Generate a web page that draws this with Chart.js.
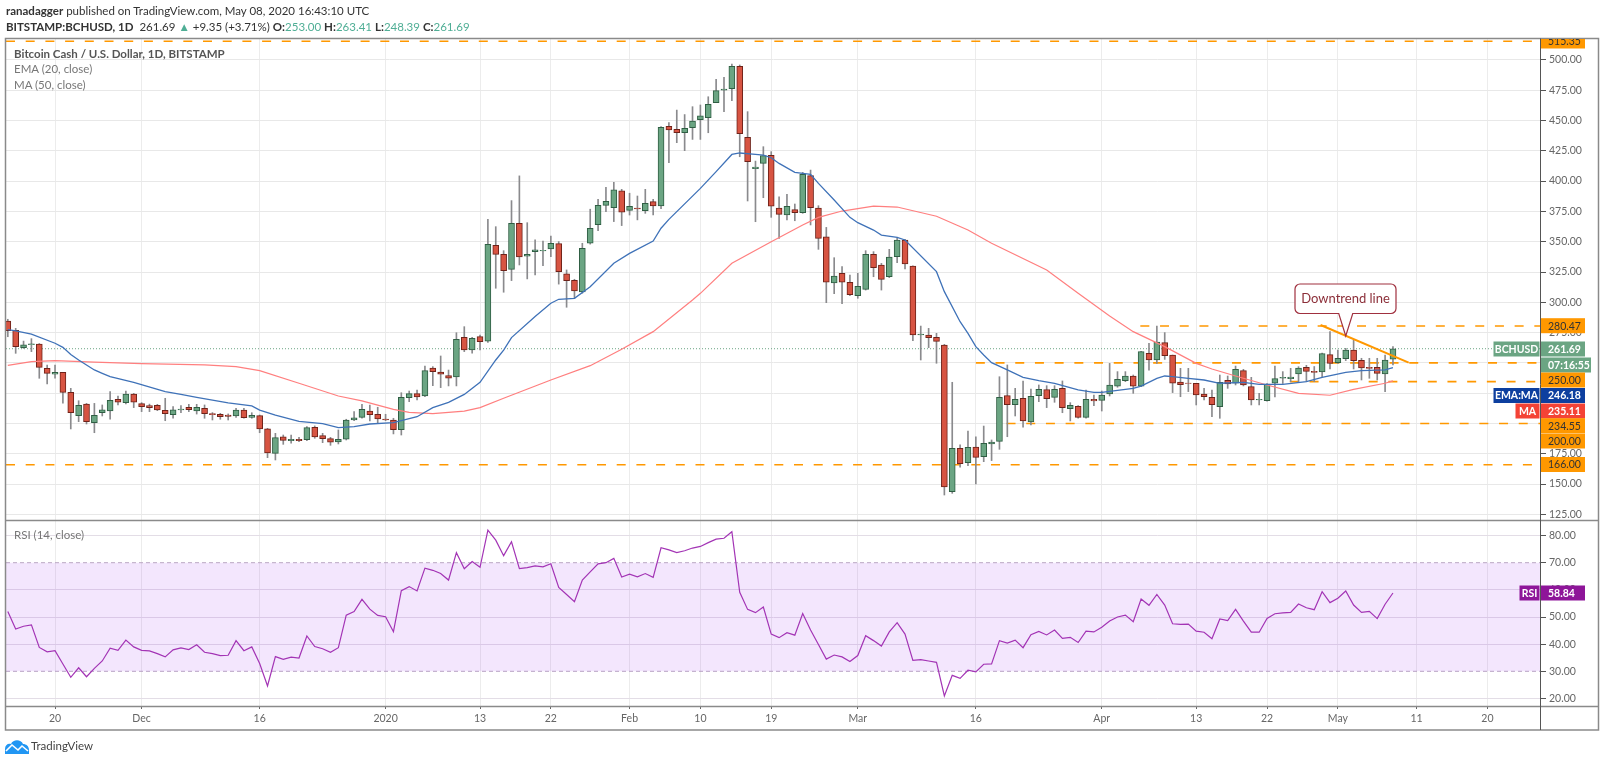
<!DOCTYPE html>
<html>
<head>
<meta charset="utf-8">
<title>BCHUSD</title>
<script src="https://cdn.jsdelivr.net/npm/chart.js@4"></script>
<style>
  html, body { margin: 0; padding: 0; background: #fff; }
  body { width: 1600px; height: 763px; overflow: hidden; position: relative; font-family: Lato, sans-serif; }
  #chart { position: absolute; left: 0; top: 0; }
  .txt { position: absolute; white-space: nowrap; }
  #head1 { left: 6px; top: 4px; font-size: 11.5px; color: #333; }
  #head2 { left: 6px; top: 20px; font-size: 11.5px; color: #333; }
  #head2 i { font-style: normal; color: #4fae95; }
  #title { left: 14px; top: 47px; font-size: 11.5px; color: #555; font-weight: 700; }
  #ema { left: 14px; top: 62px; font-size: 11.5px; color: #777; }
  #ma { left: 14px; top: 78px; font-size: 11.5px; color: #777; }
  #rsi { left: 14px; top: 528px; font-size: 11.5px; color: #777; }
  #tv { left: 31px; top: 739px; font-size: 11.5px; color: #444; }
  #logo { position: absolute; left: 5px; top: 739px; }
</style>
</head>
<body>
<canvas id="chart" width="1600" height="763"></canvas>
<div class="txt" id="head1"><b>ranadagger</b> published on TradingView.com, May 08, 2020 16:43:10 UTC</div>
<div class="txt" id="head2"><b>BITSTAMP:BCHUSD, 1D</b>&nbsp; 261.69 <i>▲</i> +9.35 (+3.71%) <b>O:</b><i>253.00</i> <b>H:</b><i>263.41</i> <b>L:</b><i>248.39</i> <b>C:</b><i>261.69</i></div>
<div class="txt" id="title">Bitcoin Cash / U.S. Dollar, 1D, BITSTAMP</div>
<div class="txt" id="ema">EMA (20, close)</div>
<div class="txt" id="ma">MA (50, close)</div>
<div class="txt" id="rsi">RSI (14, close)</div>
<svg id="logo" width="24" height="15" viewBox="0 0 24 15"><path d="M0 15V10C0 6 3 4 6 5C8 0 16 0 18 5C21 5 24 7 24 11V15Z" fill="#2196f3"/><path d="M1 12L7 6L13 11L17 7L23 12" fill="none" stroke="#fff" stroke-width="1.6"/></svg>
<div class="txt" id="tv">TradingView</div>

<script>
// candles, one per day starting Nov 14 2019 (day 0)
var opens = [
  284.5,276.9,262.6,265,265.6,245.5,240.6,242.2,225.7,206.5,216,200.7,209,210.3,220,217.2,224.3,
  216.4,214.7,215,210.9,207.3,211.2,213.3,210.3,212.5,208.1,207.6,207,206.2,211.1,205.1,206.5,195.5,175.4,188.9,185.8,186.9,186.7,196.8,190,187.5,184.8,187,202.9,205.1,210.3,207.6,
  203.7,202.9,194.9,221.3,224.6,222.7,245.8,242.5,239.5,238.4,271,260.7,271.7,267.9,347,339.6,327.2,365.2,338,341.8,342.4,344,348.4,323.4,318.2,308.5,348.7,364.1,380,378.1,391.9,
  375.9,377.8,375.6,383.1,379.5,445.2,442.7,439.9,444,450.7,452.3,464.7,475.1,476.2,494.7,436.1,410.2,414.6,421.2,377.8,372,376.4,373.9,404.5,377.8,354.1,315.9,323.9,316.5,
  305.4,310.7,339.6,330.8,321.2,337.7,351.4,329.9,273,273,271.1,264.8,143.8,179.5,167.7,180.6,172.6,183.1,185.3,223,215.5,220.8,201.3,223,227.9,221.6,229,212.2,214.2,205.1,219.9,
  219.1,224.4,230.9,235.4,239.2,230.9,257.9,252.4,266.7,256.5,234.2,233.4,233.1,224.3,221.6,213.9,235.6,233.2,243.6,230.4,219.4,218.9,233.2,237.5,237,240.9,246.3,243,242.5,256.8,
  250.2,253.5,260.6,252.1,246.3,246.3,240.9,253
];
var highs = [
  286,278.5,268,270,266,248.3,248.3,242.2,229,218.8,216.6,216.6,215.3,226.3,222.7,226.8,224.9,
  217.2,216,215.8,220.8,213.9,214.7,215.8,215.8,215.3,209,208.4,207.9,212.5,212.5,208.9,207,196,191.9,190.5,190.5,188.6,197.4,198,191.9,188.6,194.7,203.5,209.8,215.8,215.3,213.4,
  207.6,204.3,225.4,226.8,227.6,247.4,246.9,255.7,244.1,274.9,279.9,271,273,368.5,362.4,342.6,383.9,404.3,365.7,351.5,350.6,354.7,350.1,326.7,319,348.7,376.8,385,394.9,399,393.2,
  390,387.7,393.2,385,445,448.2,458.6,454.9,461.4,462.8,469.6,483.9,485.6,496.6,495.8,457.3,416.5,428.4,424.3,387.1,389,381.1,407.2,409.1,379.7,361.8,336.8,329.4,322.5,
  323.9,342.6,341.8,332.1,343.7,352.8,352,330,280.4,278.5,274.4,265.3,234,182.3,193.8,189.1,197.9,186.4,238.6,248.3,229,235.1,228.5,231.8,231.2,231.2,235.1,217.2,214.7,227.6,223.5,
  226.8,249.6,242.8,242.8,240,259.5,266.2,280.4,275,256.5,245.5,245.5,233.1,229,227.6,240,239.2,247.4,244.7,238.1,224.9,233,247.4,242.8,245.5,246.9,248,247,258,275.8,
  260.6,262,268.9,253.8,253.8,253.8,256.5,263.41
];
var lows = [
  271.6,257.9,262,259.3,237.3,232.6,237.3,216.7,195.5,201.5,199.6,192.4,206.2,203.5,215.3,216.1,213.1,
  209.8,209.8,210.6,202.3,204.3,209,209.8,207.8,204.3,202.9,203.5,202.9,205.1,204.3,204.3,192.4,171.8,169.9,182.8,183.7,185,185.8,187.8,184.2,182,183.1,186.4,202.3,204.3,202.1,200.1,
  202.3,191.4,190.5,218,219.4,222.1,231.2,229.6,231,231,259.3,258,260.7,267,311.6,308.3,317.9,330.8,319.3,322.6,330.3,337.7,315,295.9,303.3,307.5,348,359.2,374.8,366.6,363.3,
  372,368,373.4,372.1,377.3,415.2,431.7,425.1,434.4,434.4,439.9,464.7,457.3,466.3,420.1,383.6,366.5,386.3,370.1,352.8,367.9,367.3,373.4,363.8,343.7,299.7,307.1,298.9,305.4,
  303.3,310.1,321.1,310.1,320.3,332.7,327.5,268.4,252.4,262.6,249.7,141,142.4,163.9,165.2,150.1,168.5,169.4,178.7,189.1,206.2,196.9,198.8,218,213.1,217.5,208.9,202.1,204.3,204.3,214.7,
  210.3,222.7,229.9,234.5,224.9,230.4,244.1,249.6,252.9,225.5,222.1,226.3,215.3,219.4,205.7,204.3,229,231.8,231,215.3,215.3,218.5,222,233,234.5,234.5,234.5,234.5,238.6,245,
  249.6,251.9,245,235.9,237.3,235.9,226.3,248.39
];
var closes = [
  276.6,263.4,265,265.7,246.3,241.4,242.2,225.7,209,215,201.5,206.7,211.2,219.1,217.7,224.3,217.7,
  213.9,213.1,211.2,208.1,211.2,212,211.4,213.3,208.1,207.3,205.7,205.8,211.1,204.8,206.7,195.5,175.7,188.3,186.1,186.9,185.8,196.6,188.9,187.5,184.5,187,202.9,204.6,211.7,207.3,203.7,
  202.9,194.9,221.6,224.6,221.9,243.6,242.8,240.6,237.5,269.4,260.7,270.3,267.6,347.9,339.6,326.1,365.2,337.4,339.6,343.2,342.9,348.7,325.3,317.9,309.4,344.6,361.1,380,383.4,392.7,374.3,
  379.2,377,381.7,379.5,444.4,442.2,439.9,443.5,449.6,453.9,463.3,474.6,476,494.7,439.1,416,411.6,421,379.4,372.6,379.2,373.9,405.5,378.1,352.8,316.7,321.7,316.7,306.3,
  313.2,339.6,328.6,318.9,337.4,351.4,331.6,273,273.8,270.8,267.8,147.6,179.5,166.9,180.3,172.1,183.6,184.7,221.6,215.5,219.9,202.1,222.4,228.2,220.5,228.2,213.1,215,205.1,219.9,218.6,
  223.5,231.8,236.5,239.2,230.9,259.3,252.4,267.2,256,233.2,232,233.1,223.5,222.2,215.6,234,232.6,244.7,231.8,219.4,219.9,232.6,237,238,238.4,245.8,243,242.2,257.6,249.6,
  253.8,260.6,251.9,245.8,245.5,241.4,252.34,261.69
];

// rsi, same days as the candles
var rsiValues = [
  52,45.6,46.6,47.1,38.8,37.2,37.6,32.7,27.8,31.3,28,31.1,33.8,38.5,37.7,41.5,39,
  37.7,37.5,36.5,35.3,37.9,38.6,38,39.8,37,36.5,35.8,35.9,41.3,37.6,39,32.9,24.6,35.4,34.4,35.2,34.9,43,39.1,38.3,37,38.7,50.7,52,56.5,52.9,50.6,
  50.1,44.6,59.7,61.2,59.6,68,67.2,66,63.6,73.7,67.8,70.4,68.3,82,78.3,72.6,77.7,67.8,68.2,68.8,68.5,69.6,60.9,58.3,55.6,63.6,66.6,69.6,70,71.6,64.7,
  65.8,64.8,66,64.6,75.5,74.7,73.7,74.4,75.4,76,77.4,78.7,79,81.4,59.1,52.8,51.6,53.7,43.7,42.4,44.2,43.3,51.3,45.2,39.9,34.5,36,35.3,33.6,
  35.8,43.1,41.3,39.3,44.5,47.9,43.7,34,34.3,33.8,33.3,20.9,28.5,27.4,30.4,29.8,32.6,32.7,41.3,40.4,41.5,38.7,43.5,44.7,43.4,45.2,42.1,42.5,40.6,44.8,44.5,
  46.2,48.5,50,50.7,48.3,56.6,54.3,58.3,54.4,47.5,47.3,47.4,44.8,44.4,42,49.3,48.7,52.8,48.5,44.4,44.4,49.5,51.2,51.5,51.7,54.8,53.4,52.7,59.3,55.3,
  56.9,59.6,54.4,51.7,52.1,49.4,54.7,58.84
];

// moving averages, read at the bends of the lines
var emaDays = [0,1,3,6,7,8,9,10,11,12,13,16,20,22,24,28,31,32,34,37,40,42,44,46,49,52,54,56,58,60,62,63,64,67,69,70,72,74,77,79,82,83,84,88,90,92,93,95,96,97,98,100,102,103,105,107,108,110,111,113,114,118,119,121,122,123,124,125,127,129,131,133,136,138,139,143,144,146,147,148,150,152,154,157,159,162,165,167,170,172,175,176];
var emaValues = [277.5,276.5,273.8,266.2,262.8,257,252.4,248.3,244.2,241.4,238.6,234,226.3,224,221.6,217,214.5,211.1,207,201.8,199.9,196.6,197.4,199.6,200.7,205.6,213.1,217.5,224,234,252.4,260.6,270.9,288.2,299.2,302.5,303.3,312.9,332.2,340.4,350.6,361.1,368.4,394,407.8,422,423.2,422,421.5,419.3,414.6,407.2,405.5,398.1,384.4,370.1,365.7,359.6,355.5,353.6,351.4,325.3,308.8,284,274.4,263.4,256.5,250.2,244.2,238.1,235.3,233.2,227.7,225.7,225.7,229,230.9,237.3,239.2,238.6,237.3,235.9,233.2,234,232.3,232.3,234.5,238.1,242.2,243.6,244.2,246.18];
var maDays = [0,3,6,11,17,25,29,32,37,42,45,49,51,54,58,60,63,69,74,78,82,87,88,92,97,101,103,106,110,113,118,122,125,132,136,140,143,147,151,153,156,160,164,168,171,175,176];
var maValues = [248,251,251.8,250.7,249.4,248.3,246.9,243.6,233.2,222.7,218.6,211.7,209.2,208.1,210.2,213.1,220.8,235.9,247.7,261.2,275.8,301.9,307.4,332.2,350,363.8,370.1,375.3,379.4,378.6,371,359.6,348.7,326.7,307.4,288.7,275.8,263.4,249.6,245,239.2,231.8,224.9,223.3,228.2,233.2,235.11];

// horizontal levels and the trend line
var levelValues = [515.35,280.47,250,234.55,200,166];
var levelStartDays = [-0.23,143.9,123,162.9,126.9,-0.23];
var trendDays = [166.8,178];
var trendValues = [281.3,250.2];
var lastPrice = 261.69;
var rsiBand = [70,30];

// axes
var xTickDays = [6,17,32,48,60,69,79,88,97,108,123,139,151,160,169,179,188];
var xTickLabels = ["20","Dec","16","2020","13","22","Feb","10","19","Mar","16","Apr","13","22","May","11","20"];
var priceTicks = [125,150,175,200,225,250,275,300,325,350,375,400,425,450,475,500];
var rsiTicks = [20,30,40,50,60,70,80];

// axis tags on the right
var tagTexts = ["515.35","280.47","261.69","07:16:55","250.00","246.18","235.11","234.55","200.00","166.00","58.84"];
var tagNames = ["","","BCHUSD","","","EMA:MA","MA","","","","RSI"];

var xMin = -0.23, xMax = 194.81;
var fontName = "Lato, sans-serif";
var upCol = "#6ba583", upLine = "#2f5e43", downCol = "#d75442", downLine = "#6e2219", levelCol = "#ff9800";

var days = closes.map(function (c, i) { return i; });
var bodies = days.map(function (d) { return { x: d, y: [opens[d], closes[d]] }; });
var wicks = days.map(function (d) { return { x: d, y: [lows[d], highs[d]] }; });
var isUp = days.map(function (d) { return closes[d] >= opens[d]; });

function linePoints(xs, ys) {
  return xs.map(function (x, i) { return { x: x, y: ys[i] }; });
}

var datasets = [];

// band behind the rsi line
datasets.push({ type: "line", yAxisID: "yRsi", data: linePoints([xMin, xMax], [rsiBand[0], rsiBand[0]]), borderColor: "#b9a5c2", borderWidth: 1, borderDash: [4, 3], pointRadius: 0, fill: "+1", backgroundColor: "rgba(153,51,240,0.12)", order: 9 });
datasets.push({ type: "line", yAxisID: "yRsi", data: linePoints([xMin, xMax], [rsiBand[1], rsiBand[1]]), borderColor: "#b9a5c2", borderWidth: 1, borderDash: [4, 3], pointRadius: 0, order: 9 });

levelValues.forEach(function (v, i) {
  datasets.push({ type: "line", yAxisID: "y", data: linePoints([levelStartDays[i], xMax], [v, v]), borderColor: levelCol, borderWidth: 1.6, borderDash: [9, 10.7], pointRadius: 0, order: 8 });
});
datasets.push({ type: "line", yAxisID: "y", data: linePoints([xMin, xMax], [lastPrice, lastPrice]), borderColor: "#6ba583", borderWidth: 1, borderDash: [1, 2], pointRadius: 0, order: 7 });

datasets.push({ type: "bar", yAxisID: "y", grouped: false, data: wicks, barThickness: 1, backgroundColor: "#8a8a8d", order: 6 });
datasets.push({
  type: "bar", yAxisID: "y", grouped: false, data: bodies, barThickness: 6, borderWidth: 1, borderSkipped: false,
  backgroundColor: days.map(function (d) { return isUp[d] ? upCol : downCol; }),
  borderColor: days.map(function (d) { return isUp[d] ? upLine : downLine; }),
  order: 5
});

datasets.push({ type: "line", yAxisID: "y", data: linePoints(maDays, maValues), borderColor: "#ff7f7f", borderWidth: 1.2, pointRadius: 0, order: 4 });
datasets.push({ type: "line", yAxisID: "y", data: linePoints(emaDays, emaValues), borderColor: "#3f72b8", borderWidth: 1.3, pointRadius: 0, order: 3 });
datasets.push({ type: "line", yAxisID: "y", data: linePoints(trendDays, trendValues), borderColor: levelCol, borderWidth: 2, pointRadius: 0, order: 2 });
datasets.push({ type: "line", yAxisID: "yRsi", data: linePoints(days, rsiValues), borderColor: "#a334b5", borderWidth: 1.2, pointRadius: 0, order: 1 });

// frame, callout and tags
var overlay = {
  id: "overlay",
  afterDraw: function (chart) {
    var ctx = chart.ctx;
    var yScale = chart.scales.y;
    var xScale = chart.scales.x;
    ctx.save();

    ctx.strokeStyle = "#8a8a8a";
    ctx.lineWidth = 1.5;
    ctx.strokeRect(5.5, 38.5, 1593, 691.5);
    ctx.beginPath();
    ctx.moveTo(5.5, 520.5); ctx.lineTo(1598.5, 520.5);
    ctx.moveTo(5.5, 706.5); ctx.lineTo(1598.5, 706.5);
    ctx.stroke();
    ctx.strokeStyle = "#555";
    ctx.lineWidth = 1;
    ctx.beginPath();
    ctx.moveTo(1540.5, 38.5); ctx.lineTo(1540.5, 730);
    ctx.stroke();

    // callout, tip sits on the trend line
    var tipX = xScale.getPixelForValue(170), tipY = yScale.getPixelForValue(272.2);
    ctx.beginPath();
    ctx.moveTo(1300, 284);
    ctx.lineTo(1391, 284);
    ctx.arcTo(1396, 284, 1396, 289, 5);
    ctx.lineTo(1396, 308.5);
    ctx.arcTo(1396, 313.5, 1391, 313.5, 5);
    ctx.lineTo(tipX + 7, 313.5);
    ctx.lineTo(tipX, tipY);
    ctx.lineTo(tipX - 7, 313.5);
    ctx.lineTo(1300, 313.5);
    ctx.arcTo(1295, 313.5, 1295, 308.5, 5);
    ctx.lineTo(1295, 289);
    ctx.arcTo(1295, 284, 1300, 284, 5);
    ctx.closePath();
    ctx.fillStyle = "#fff";
    ctx.fill();
    ctx.strokeStyle = "#a0303f";
    ctx.lineWidth = 1.2;
    ctx.stroke();
    ctx.fillStyle = "#8c2f39";
    ctx.font = "13px " + fontName;
    ctx.textAlign = "center";
    ctx.textBaseline = "middle";
    ctx.fillText("Downtrend line", 1345.5, 299);

    // tags, shifted by hand where they would overlap
    var tagY = [41, 325.7, 349, 365, 380, 395.5, 411, 425.7, 441, 464.5, 593];
    var tagCol = [levelCol, levelCol, upCol, upCol, levelCol, "#0d3f9f", "#f44336", levelCol, levelCol, levelCol, "#8e1599"];
    var tagInk = ["#333", "#333", "#fff", "#fff", "#333", "#fff", "#fff", "#333", "#333", "#333", "#fff"];
    ctx.save();
    ctx.beginPath();
    ctx.rect(0, 39, 1600, 724);
    ctx.clip();
    ctx.textBaseline = "middle";
    tagTexts.forEach(function (t, i) {
      var w = t === "07:16:55" ? 50 : 44;
      ctx.fillStyle = tagCol[i];
      ctx.fillRect(1541, tagY[i] - 7.5, w, 15);
      ctx.fillStyle = tagInk[i];
      ctx.font = (tagInk[i] === "#fff" ? "700 " : "") + "10.5px " + fontName;
      ctx.textAlign = "left";
      ctx.fillText(t, 1548, tagY[i] + 0.5);
      if (tagNames[i]) {
        var nw = tagNames[i] === "BCHUSD" ? 46 : tagNames[i] === "EMA:MA" ? 46 : tagNames[i] === "MA" ? 24 : 20;
        ctx.fillStyle = tagCol[i];
        ctx.fillRect(1539.5 - nw, tagY[i] - 7.5, nw, 15);
        ctx.fillStyle = tagInk[i];
        ctx.textAlign = "center";
        ctx.fillText(tagNames[i], 1539.5 - nw / 2, tagY[i] + 0.5);
      }
    });
    ctx.restore();
    ctx.restore();
  }
};

new Chart(document.getElementById("chart"), {
  type: "bar",
  data: { datasets: datasets },
  plugins: [overlay],
  options: {
    responsive: false,
    animation: false,
    devicePixelRatio: 1,
    layout: { padding: { left: 6, top: 38, right: 1, bottom: 33 } },
    plugins: { legend: { display: false }, tooltip: { enabled: false } },
    elements: { line: { tension: 0 } },
    scales: {
      x: {
        type: "linear",
        min: xMin,
        max: xMax,
        offset: false,
        afterBuildTicks: function (s) { s.ticks = xTickDays.map(function (d) { return { value: d }; }); },
        afterFit: function (s) { s.height = 24; },
        border: { display: false },
        grid: { offset: false, color: "#ececec", lineWidth: 1, tickColor: "#666", tickLength: 3 },
        ticks: {
          autoSkip: false, maxRotation: 0, padding: 3, color: "#666",
          font: { family: fontName, size: 10.5 },
          callback: function (v) { return xTickLabels[xTickDays.indexOf(v)]; }
        }
      },
      y: {
        type: "linear",
        position: "right",
        stack: "panes",
        stackWeight: 482,
        min: 120.38,
        max: 518.07,
        afterBuildTicks: function (s) { s.ticks = priceTicks.map(function (v) { return { value: v }; }); },
        afterFit: function (s) { s.width = 58; },
        border: { display: false },
        grid: { color: "#e8e8e8", tickColor: "#555", tickLength: 5 },
        ticks: { padding: 3, color: "#666", font: { family: fontName, size: 10.5 }, callback: function (v) { return v.toFixed(2); } }
      },
      yRsi: {
        type: "linear",
        position: "right",
        stack: "panes",
        stackWeight: 186,
        min: 17.22,
        max: 85.73,
        afterBuildTicks: function (s) { s.ticks = rsiTicks.map(function (v) { return { value: v }; }); },
        afterFit: function (s) { s.width = 58; },
        border: { display: false },
        grid: {
          color: function (c) { return c.tick && rsiBand.indexOf(c.tick.value) >= 0 ? "rgba(0,0,0,0)" : "#e3dde6"; },
          tickColor: "#555", tickLength: 5
        },
        ticks: { padding: 3, color: "#666", font: { family: fontName, size: 10.5 }, callback: function (v) { return v.toFixed(2); } }
      }
    }
  }
});
</script>
</body>
</html>
